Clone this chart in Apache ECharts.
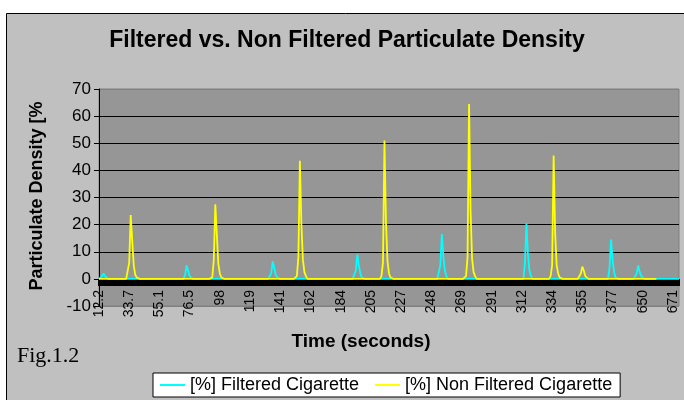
<!DOCTYPE html>
<html>
<head>
<meta charset="utf-8">
<title>Filtered vs. Non Filtered Particulate Density</title>
<script src="https://cdn.jsdelivr.net/npm/echarts@6/dist/echarts.min.js"></script>
<style>
  html, body { margin: 0; padding: 0; background: #ffffff; }
  #chart { width: 684px; height: 400px; }
</style>
</head>
<body>
<div id="chart"></div>
<script>
// Time labels printed under every 20th sample (seconds)
const tickLabels = ['12.2', '33.7', '55.1', '76.5', '98', '119', '141', '162', '184', '205',
                    '227', '248', '269', '291', '312', '334', '355', '377', '650', '671'];
const labelStep = 20;

// Number of samples on the time axis, and how many of them each series covers
const sampleCount = 385;
const filteredLength = 385;
const nonFilteredLength = 370;

// Readings are 0 % between puffs; each puff is [first sample index, readings...]
const filteredPuffs = [
  [2,   1,   2,    1,   0.5],
  [57,  1.5, 5,    3,   1,   0.5],
  [114, 2,   6.5,  4,   1.5, 0.5],
  [170, 3,   9,    5,   2,   0.5],
  [226, 5,   16.5, 8,   3,   1],
  [282, 6,   20.5, 9,   3,   1],
  [338, 4,   14.5, 7,   2.5, 0.5],
  [356, 2,   5,    2.5, 1,   0.5]
];
const nonFilteredPuffs = [
  [19,  0.5, 6,  23.5, 14, 5,   1.5, 0.5],
  [75,  0.5, 7,  27.5, 16.5, 5.5, 2, 0.5],
  [131, 1,   8,  43.5, 20, 7,   2.5, 1],
  [187, 1,   6,  51,   21, 6.5, 2,   0.5],
  [243, 1,   8,  64.5, 25, 7.5, 2.5, 1],
  [299, 1,   5,  45.5, 17, 5,   2,   0.5],
  [318, 0.5, 2,  4.5,  3,  1,   0.5]
];

function buildSeries(length, puffs) {
  const out = [];
  for (let i = 0; i < sampleCount; i++) out.push(i < length ? 0 : null);
  puffs.forEach(p => {
    const start = p[0];
    for (let k = 1; k < p.length; k++) out[start + k - 1] = p[k];
  });
  return out;
}

const categories = [];
for (let i = 0; i < sampleCount; i++) categories.push(String(i));

const filtered = buildSeries(filteredLength, filteredPuffs);
const nonFiltered = buildSeries(nonFilteredLength, nonFilteredPuffs);

const FONT = '"Liberation Sans", Arial, sans-serif';

const chart = echarts.init(document.getElementById('chart'), null, { renderer: 'canvas' });
chart.setOption({
  animation: false,
  textStyle: { fontFamily: FONT, color: '#000' },
  graphic: [
    {
      type: 'rect', z: -100, silent: true,
      shape: { x: 6.5, y: 13.5, width: 700, height: 420 },
      style: { fill: '#c0c0c0', stroke: '#000', lineWidth: 1 }
    },
    {
      type: 'text', silent: true,
      style: { text: 'Filtered vs. Non Filtered Particulate Density', x: 347, y: 41,
               align: 'center', verticalAlign: 'middle',
               font: 'bold 23px ' + FONT, fill: '#000' }
    },
    {
      type: 'text', silent: true, rotation: Math.PI / 2, x: 37, y: 196,
      style: { text: 'Particulate Density [%', x: 0, y: 0,
               align: 'center', verticalAlign: 'middle',
               font: 'bold 18px ' + FONT, fill: '#000' }
    },
    {
      type: 'text', silent: true,
      style: { text: 'Time (seconds)', x: 361, y: 342,
               align: 'center', verticalAlign: 'middle',
               font: 'bold 19px ' + FONT, fill: '#000' }
    },
    {
      type: 'text', silent: true,
      style: { text: 'Fig.1.2', x: 17, y: 356,
               align: 'left', verticalAlign: 'middle',
               font: '22px "Liberation Serif", "Times New Roman", serif', fill: '#000' }
    }
  ],
  legend: {
    left: 153, top: 373,
    padding: [3, 8, 3, 7],
    backgroundColor: '#ffffff',
    borderColor: '#000', borderWidth: 1, borderRadius: 0,
    icon: 'rect', itemWidth: 25, itemHeight: 2, itemGap: 16,
    textStyle: { fontSize: 18, fontFamily: FONT, color: '#000' },
    data: ['[%] Filtered Cigarette', '[%] Non Filtered Cigarette']
  },
  grid: {
    left: 99, top: 89, width: 580, height: 217,
    show: true, backgroundColor: '#969696', borderColor: '#808080', borderWidth: 1
  },
  xAxis: [
    {
      // axis line and per-sample tick marks at the 0 % level
      type: 'category',
      data: categories,
      boundaryGap: false,
      axisLine: { onZero: true, lineStyle: { color: '#000', width: 1 } },
      axisTick: { show: true, interval: 0, length: 7, lineStyle: { color: '#000', width: 2 } },
      axisLabel: { show: false },
      splitLine: { show: false }
    },
    {
      // time labels just under the tick marks
      type: 'category',
      data: categories,
      boundaryGap: false,
      position: 'bottom',
      offset: -16,
      axisLine: { show: false, onZero: false },
      axisTick: { show: false },
      axisLabel: {
        interval: labelStep - 1, rotate: 90, margin: 0,
        fontSize: 14, fontFamily: FONT, color: '#000',
        formatter: (v, idx) => tickLabels[Math.round(idx / labelStep)]
      },
      splitLine: { show: false }
    }
  ],
  yAxis: {
    type: 'value',
    min: -10, max: 70, interval: 10,
    axisLine: { show: true, lineStyle: { color: '#000' } },
    axisTick: { show: true, length: 5, lineStyle: { color: '#000' } },
    axisLabel: { fontSize: 17, fontFamily: FONT, color: '#000', margin: 8 },
    splitLine: {
      show: true,
      lineStyle: { color: ['#808080', '#000', '#000', '#000', '#000', '#000', '#000', '#000', '#808080'], width: 1 }
    }
  },
  series: [
    {
      name: '[%] Filtered Cigarette', type: 'line', data: filtered, xAxisIndex: 0,
      showSymbol: false, symbol: 'none',
      lineStyle: { color: '#00ffff', width: 1.8 }, itemStyle: { color: '#00ffff' }
    },
    {
      name: '[%] Non Filtered Cigarette', type: 'line', data: nonFiltered, xAxisIndex: 0,
      showSymbol: false, symbol: 'none',
      lineStyle: { color: '#ffff00', width: 1.8 }, itemStyle: { color: '#ffff00' }
    }
  ]
});
</script>
</body>
</html>
